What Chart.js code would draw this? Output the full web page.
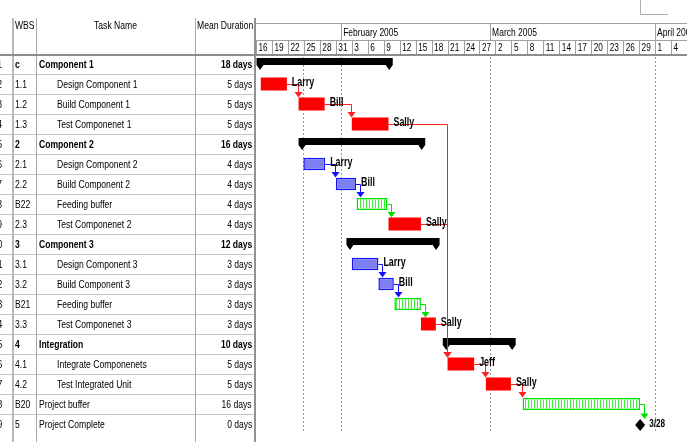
<!DOCTYPE html>
<html>
<head>
<meta charset="utf-8">
<script src="https://cdn.jsdelivr.net/npm/chart.js@4.4.1/dist/chart.umd.min.js"></script>
<style>
  html, body { margin: 0; padding: 0; background: #fff; }
  #wrap { position: relative; width: 687px; height: 442px; overflow: hidden; font-family: 'Liberation Sans', Arial, sans-serif; color: #000; }
  #gantt { position: absolute; left: 0; top: 0; }
  #table { position: absolute; left: 0; top: 0; width: 256px; height: 442px; overflow: hidden; }
  .t { position: absolute; font-size: 11px; line-height: 20px; height: 20px; white-space: nowrap; transform: scaleX(0.78); transform-origin: left center; }
  .r { transform-origin: right center; text-align: right; }
  .c { transform-origin: center center; text-align: center; }
  .b { font-weight: bold; }
  .ln { position: absolute; }
</style>
</head>
<body>
<div id="wrap">
  <canvas id="gantt" width="687" height="442"></canvas>
  <div id="table"></div>
</div>
<script>
// rows of the schedule
const ids = ['1','2','3','4','5','6','7','8','9','10','11','12','13','14','15','16','17','18','19'];
const wbs = ['c','1.1','1.2','1.3','2','2.1','2.2','B22','2.3','3','3.1','3.2','B21','3.3','4','4.1','4.2','B20','5'];
const taskNames = ['Component 1','Design Component 1','Build Component 1','Test Componenet 1',
  'Component 2','Design Component 2','Build Component 2','Feeding buffer','Test Componenet 2',
  'Component 3','Design Component 3','Build Component 3','Feeding buffer','Test Componenet 3',
  'Integration','Integrate Componenets','Test Integrated Unit','Project buffer','Project Complete'];
const durations = ['18 days','5 days','5 days','5 days','16 days','4 days','4 days','4 days','4 days',
  '12 days','3 days','3 days','3 days','3 days','10 days','5 days','5 days','16 days','0 days'];
const indentLevel = [0,1,1,1,0,1,1,1,1,0,1,1,1,1,0,1,1,0,0];
const rowType = ['summary','red','red','red','summary','blue','blue','buffer','red',
  'summary','blue','blue','buffer','red','summary','red','red','buffer','milestone'];

// days counted from Jan 16 2005
const startDay = [0.1, 0.9, 8.0, 18.0, 8.0, 8.9, 15.0, 18.9, 24.9, 17.0, 18.0, 23.0, 26.0, 31.0, 35.1, 36.0, 43.2, 50.1, 72.2];
const endDay   = [25.7, 5.8, 12.9, 24.9, 31.8, 13.0, 18.8, 24.7, 31.0, 34.5, 23.0, 25.9, 31.0, 33.8, 48.8, 41.0, 47.9, 72.2, 72.2];
const resources = ['','Larry','Bill','Sally','','Larry','Bill','','Sally','','Larry','Bill','','Sally','','Jeff','Sally','','3/28'];
const links = [[1,2],[2,3],[3,15],[5,6],[6,7],[7,8],[8,15],[10,11],[11,12],[12,13],[13,15],[15,16],[16,17],[17,18]];

// timescale
const dayTickLabels = ['16','19','22','25','28','31','3','6','9','12','15','18','21','24','27',
  '2','5','8','11','14','17','20','23','26','29','1','4'];
const monthLabels = ['February 2005','March 2005','April 2005'];
const monthStarts = [16, 44, 75];
const dashedDays = [8.9, 16, 44, 75];

const linkColor = { red: '#ff2020', blue: '#1010ff', buffer: '#00e000' };

// ---- left table ----
const table = document.getElementById('table');
function addText(text, cls, css) {
  const d = document.createElement('div');
  d.className = 't ' + cls;
  d.textContent = text;
  Object.assign(d.style, css);
  table.appendChild(d);
}
function addLine(css) {
  const d = document.createElement('div');
  d.className = 'ln';
  Object.assign(d.style, css);
  table.appendChild(d);
}
addText('WBS', '', { left: '15px', top: '18px', lineHeight: '14px' });
addText('Task Name', 'c', { left: '36px', width: '159px', top: '18px', lineHeight: '14px' });
addText('Mean Duration', '', { left: '197px', top: '18px', lineHeight: '14px' });

wbs.forEach((w, i) => {
  const top = (54 + i * 20) + 'px';
  const bold = rowType[i] === 'summary' ? ' b' : '';
  addText(ids[i], 'r', { right: '253.5px', top: top });
  addText(w, bold, { left: '15px', top: top });
  addText(taskNames[i], bold, { left: (indentLevel[i] ? 57 : 39) + 'px', top: top });
  addText(durations[i], 'r' + bold, { right: '4px', top: top });
  if (i < wbs.length - 1) {
    addLine({ left: '0px', width: '255px', top: (74 + i * 20) + 'px', height: '1px', background: '#c4c4c4' });
  }
});
addLine({ left: '12px', top: '18px', width: '2px', height: '424px', background: '#b8b8b8' });
addLine({ left: '36px', top: '18px', width: '1px', height: '424px', background: '#a8a8a8' });
addLine({ left: '195px', top: '18px', width: '1px', height: '424px', background: '#a8a8a8' });
addLine({ left: '254px', top: '18px', width: '2px', height: '424px', background: '#909090' });
addLine({ left: '0px', top: '54px', width: '256px', height: '2px', background: '#8c8c8c' });

// ---- buffer hatch ----
const tile = document.createElement('canvas');
tile.width = 3; tile.height = 1;
const tctx = tile.getContext('2d');
tctx.fillStyle = '#ffffff'; tctx.fillRect(0, 0, 3, 1);
tctx.fillStyle = '#3cf03c'; tctx.fillRect(0, 0, 1, 1);
const hatch = document.getElementById('gantt').getContext('2d').createPattern(tile, 'repeat');

function seriesFor(type) {
  return wbs.map((_, i) => rowType[i] === type ? [startDay[i], endDay[i]] : null);
}

function narrowText(ctx, text, x, y, sx) {
  ctx.save();
  ctx.translate(x, y);
  ctx.scale(sx, 1);
  ctx.fillText(text, 0, 0);
  ctx.restore();
}

const ganttPlugin = {
  id: 'gantt',
  afterDatasetsUpdate(chart) {
    // summary bars sit in the upper part of their row
    chart.getDatasetMeta(0).data.forEach(el => { el.y -= 2.5; });
  },
  beforeDatasetsDraw(chart) {
    const ctx = chart.ctx, xs = chart.scales.x, area = chart.chartArea;
    const px = d => xs.getPixelForValue(d);
    ctx.save();
    // header frame
    ctx.strokeStyle = '#a0a0a0';
    ctx.lineWidth = 1;
    ctx.beginPath();
    ctx.moveTo(area.left, 23.5); ctx.lineTo(area.right, 23.5);
    ctx.moveTo(area.left, 40.5); ctx.lineTo(area.right, 40.5);
    monthStarts.forEach(d => { const x = Math.round(px(d)) + 0.5; ctx.moveTo(x, 23); ctx.lineTo(x, 40); });
    dayTickLabels.forEach((_, i) => { const x = Math.round(px(i * 3)) + 0.5; ctx.moveTo(x, 40); ctx.lineTo(x, 54); });
    ctx.stroke();
    ctx.fillStyle = '#8c8c8c';
    ctx.fillRect(area.left, 54, area.right - area.left, 2);

    ctx.fillStyle = '#000';
    ctx.textBaseline = 'middle';
    ctx.font = '11px "Liberation Sans", Arial, sans-serif';
    monthLabels.forEach((m, i) => narrowText(ctx, m, px(monthStarts[i]) + 2, 32.5, 0.77));
    dayTickLabels.forEach((t, i) => narrowText(ctx, t, px(i * 3) + 2.5, 48, 0.75));

    // dotted time lines
    ctx.strokeStyle = '#9a9a9a';
    ctx.setLineDash([2, 2]);
    ctx.beginPath();
    dashedDays.forEach(d => { const x = Math.round(px(d)) + 0.5; ctx.moveTo(x, 57); ctx.lineTo(x, area.bottom - 3); });
    ctx.stroke();
    ctx.setLineDash([]);

    // fragment of a box at the top right
    ctx.strokeStyle = '#b0b0b0';
    ctx.beginPath();
    ctx.moveTo(640.5, 0); ctx.lineTo(640.5, 14.5); ctx.lineTo(668, 14.5);
    ctx.stroke();
    ctx.restore();
  },
  afterDatasetsDraw(chart) {
    const ctx = chart.ctx, xs = chart.scales.x, ys = chart.scales.y;
    const px = d => xs.getPixelForValue(d);
    const py = i => ys.getPixelForValue(i);
    ctx.save();

    // summary end caps
    ctx.fillStyle = '#000';
    rowType.forEach((t, i) => {
      if (t !== 'summary') return;
      const x0 = px(startDay[i]), x1 = px(endDay[i]), yb = py(i) + 1;
      ctx.beginPath();
      ctx.moveTo(x0, yb); ctx.lineTo(x0 + 7, yb); ctx.lineTo(x0 + 3.5, yb + 5); ctx.closePath();
      ctx.moveTo(x1 - 7, yb); ctx.lineTo(x1, yb); ctx.lineTo(x1 - 3.5, yb + 5); ctx.closePath();
      ctx.fill();
    });

    // links
    links.forEach(([p, s]) => {
      const col = linkColor[rowType[p]];
      const xe = px(endDay[p]), ye = Math.round(py(p)) + 0.5;
      const xsu = px(startDay[s]);
      const top = rowType[s] === 'milestone' ? py(s) - 5 : py(s) - 6.5;
      const ax = Math.round(Math.max(xe + 4, xsu - 1)) + 0.5;
      ctx.strokeStyle = col;
      ctx.fillStyle = col;
      ctx.lineWidth = 1;
      ctx.beginPath();
      ctx.moveTo(xe, ye); ctx.lineTo(ax, ye); ctx.lineTo(ax, top - 5);
      ctx.stroke();
      ctx.beginPath();
      ctx.moveTo(ax - 4, top - 5.5); ctx.lineTo(ax + 4, top - 5.5); ctx.lineTo(ax, top); ctx.closePath();
      ctx.fill();
    });

    // milestone
    rowType.forEach((t, i) => {
      if (t !== 'milestone') return;
      const x = px(endDay[i]), y = py(i) + 1;
      ctx.fillStyle = '#000';
      ctx.beginPath();
      ctx.moveTo(x, y - 6); ctx.lineTo(x + 5, y); ctx.lineTo(x, y + 6); ctx.lineTo(x - 5, y); ctx.closePath();
      ctx.fill();
    });

    // resource / date labels
    ctx.fillStyle = '#000';
    ctx.textBaseline = 'middle';
    resources.forEach((r, i) => {
      if (!r) return;
      const ms = rowType[i] === 'milestone';
      ctx.font = (ms ? 'bold 11px' : 'bold 12px') + ' "Liberation Sans", Arial, sans-serif';
      narrowText(ctx, r, px(endDay[i]) + (ms ? 9 : 5), py(i) - 1.5 + (ms ? 1 : 0), 0.74);
    });
    ctx.restore();
  }
};

new Chart(document.getElementById('gantt'), {
  type: 'bar',
  data: {
    labels: wbs,
    datasets: [
      { label: 'Summary', data: seriesFor('summary'), backgroundColor: '#000000',
        barPercentage: 0.35, categoryPercentage: 1, grouped: false, borderSkipped: false },
      { label: 'Critical task', data: seriesFor('red'), backgroundColor: '#ff0000',
        barPercentage: 0.65, categoryPercentage: 1, grouped: false, borderSkipped: false },
      { label: 'Task', data: seriesFor('blue'), backgroundColor: '#7e7ef0', borderColor: '#1414ff', borderWidth: 1.5,
        barPercentage: 0.62, categoryPercentage: 1, grouped: false, borderSkipped: false },
      { label: 'Buffer', data: seriesFor('buffer'), backgroundColor: hatch, borderColor: '#00e000', borderWidth: 1.5,
        barPercentage: 0.6, categoryPercentage: 1, grouped: false, borderSkipped: false }
    ]
  },
  options: {
    indexAxis: 'y',
    responsive: false,
    animation: false,
    devicePixelRatio: 1,
    layout: { padding: { left: 256, top: 54, right: 0, bottom: 8 } },
    plugins: { legend: { display: false }, tooltip: { enabled: false } },
    scales: {
      x: { type: 'linear', min: 0, max: 81, display: false },
      y: { type: 'category', display: false, offset: true }
    }
  },
  plugins: [ganttPlugin]
});
</script>
</body>
</html>
